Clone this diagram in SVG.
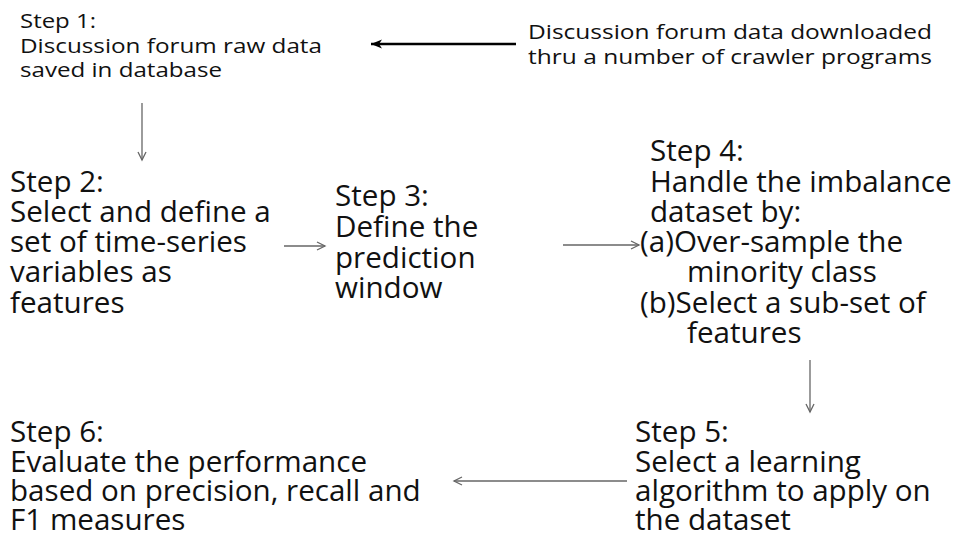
<svg xmlns="http://www.w3.org/2000/svg" width="955" height="538" viewBox="0 0 955 538">
<style>
text{font-family:"Open Sans","DejaVu Sans",sans-serif;fill:#111}
.s{font-size:20px}
.b{font-size:29.6px}
.c{stroke:#666;stroke-width:1.3;fill:none}
.k{stroke:#000;stroke-width:2.5;fill:none}
</style>
<defs>
<marker id="v" markerWidth="12" markerHeight="12" refX="9" refY="5" orient="auto" markerUnits="userSpaceOnUse">
<path d="M1,1 L9,5 L1,9" fill="none" stroke="#666" stroke-width="1.3"/>
</marker>
<marker id="h" markerWidth="14" markerHeight="12" refX="11" refY="6" orient="auto" markerUnits="userSpaceOnUse">
<path d="M0,1.5 L11,6 L0,10.5 L3,6 Z" fill="#000"/>
</marker>
</defs>
<rect width="955" height="538" fill="#fff"/>
<g id="connectors">
<line class="k" x1="516" y1="44" x2="371" y2="44" marker-end="url(#h)"/>
<line class="c" x1="142" y1="103" x2="142" y2="160" marker-end="url(#v)"/>
<line class="c" x1="284" y1="246" x2="325" y2="246" marker-end="url(#v)"/>
<line class="c" x1="563" y1="245" x2="639" y2="245" marker-end="url(#v)"/>
<line class="c" x1="810" y1="360" x2="810" y2="412" marker-end="url(#v)"/>
<line class="c" x1="627" y1="481" x2="454" y2="481" marker-end="url(#v)"/>
</g>
<g id="step1">
<text class="s"><tspan x="20" y="28" textLength="76" lengthAdjust="spacingAndGlyphs">Step 1:</tspan><tspan x="20" y="53" textLength="302" lengthAdjust="spacingAndGlyphs">Discussion forum raw data</tspan><tspan x="20" y="77" textLength="202" lengthAdjust="spacingAndGlyphs">saved in database</tspan></text>
</g>
<g id="source">
<text class="s"><tspan x="528" y="39" textLength="404" lengthAdjust="spacingAndGlyphs">Discussion forum data downloaded</tspan><tspan x="528" y="64" textLength="404" lengthAdjust="spacingAndGlyphs">thru a number of crawler programs</tspan></text>
</g>
<g id="step2">
<text class="b"><tspan x="10" y="192">Step 2:</tspan><tspan x="10" y="222">Select and define a</tspan><tspan x="10" y="252">set of time-series</tspan><tspan x="10" y="282">variables as</tspan><tspan x="10" y="313">features</tspan></text>
</g>
<g id="step3">
<text class="b"><tspan x="335" y="206">Step 3:</tspan><tspan x="335" y="237">Define the</tspan><tspan x="335" y="268">prediction</tspan><tspan x="335" y="298">window</tspan></text>
</g>
<g id="step4">
<text class="b"><tspan x="650" y="161">Step 4:</tspan><tspan x="650" y="192">Handle the imbalance</tspan><tspan x="650" y="222">dataset by:</tspan><tspan x="640" y="252">(a)Over-sample the</tspan><tspan x="687" y="282">minority class</tspan><tspan x="640" y="313">(b)Select a sub-set of</tspan><tspan x="687" y="343">features</tspan></text>
</g>
<g id="step5">
<text class="b"><tspan x="635" y="442">Step 5:</tspan><tspan x="635" y="472">Select a learning</tspan><tspan x="635" y="501">algorithm to apply on</tspan><tspan x="635" y="530">the dataset</tspan></text>
</g>
<g id="step6">
<text class="b"><tspan x="10" y="442">Step 6:</tspan><tspan x="10" y="472">Evaluate the performance</tspan><tspan x="10" y="501">based on precision, recall and</tspan><tspan x="10" y="530">F1 measures</tspan></text>
</g>
</svg>
